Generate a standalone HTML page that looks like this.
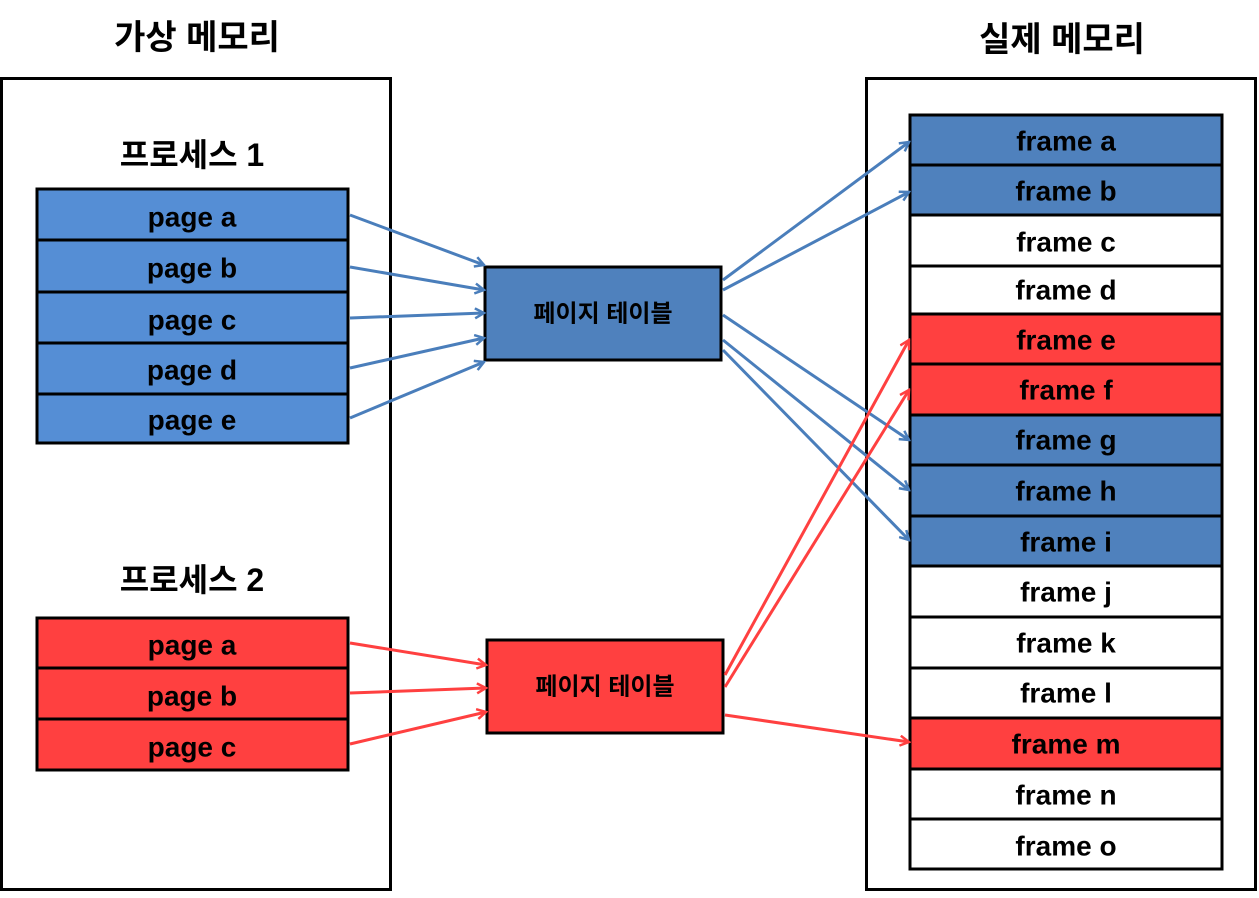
<!DOCTYPE html>
<html><head><meta charset="utf-8"><style>
body{margin:0;background:#fff;width:1259px;height:893px;overflow:hidden}
svg text{font-family:"Liberation Sans","Noto Sans CJK KR","NanumGothic",sans-serif;font-weight:bold;text-anchor:middle;dominant-baseline:central}
</style></head><body>
<svg width="1259" height="893" viewBox="0 0 1259 893">
<defs>
<marker id="ab" markerWidth="12" markerHeight="12" refX="10" refY="6" orient="auto" markerUnits="userSpaceOnUse"><path d="M1,1 L10,6 L1,11" fill="none" stroke="#4A7EBB" stroke-width="2.5"/></marker>
<marker id="ar" markerWidth="12" markerHeight="12" refX="10" refY="6" orient="auto" markerUnits="userSpaceOnUse"><path d="M1,1 L10,6 L1,11" fill="none" stroke="#FF4040" stroke-width="2.5"/></marker>
</defs>
<text x="197" y="38" font-size="34">가상 메모리</text>
<text x="1062" y="40" font-size="34">실제 메모리</text>
<rect x="1.5" y="78.5" width="389" height="811" fill="none" stroke="#000" stroke-width="3"/>
<rect x="866.5" y="78.5" width="389" height="811" fill="none" stroke="#000" stroke-width="3"/>
<text x="192" y="155" font-size="32">프로세스 1</text>
<text x="192" y="580" font-size="32">프로세스 2</text>
<g stroke="#000" stroke-width="3" fill="#558ED5">
<rect x="37" y="189" width="311" height="51"/><rect x="37" y="240" width="311" height="52"/><rect x="37" y="292" width="311" height="51"/><rect x="37" y="343" width="311" height="51"/><rect x="37" y="394" width="311" height="49"/>
</g>
<g stroke="#000" stroke-width="3" fill="#FF4040">
<rect x="37" y="618" width="311" height="50"/><rect x="37" y="668" width="311" height="51"/><rect x="37" y="719" width="311" height="51"/>
</g>
<g font-size="28">
<text x="192" y="217">page a</text><text x="192" y="268">page b</text><text x="192" y="320">page c</text><text x="192" y="370">page d</text><text x="192" y="420">page e</text>
<text x="192" y="645">page a</text><text x="192" y="696">page b</text><text x="192" y="747">page c</text>
</g>
<rect x="485" y="267" width="236" height="93" fill="#4F81BD" stroke="#000" stroke-width="3"/>
<rect x="487" y="640" width="236" height="93" fill="#FF4040" stroke="#000" stroke-width="3"/>
<text x="603" y="314" font-size="24">페이지 테이블</text>
<text x="605" y="687" font-size="24">페이지 테이블</text>
<g stroke="#000" stroke-width="3">
<rect x="910" y="115" width="312" height="50" fill="#4F81BD"/>
<rect x="910" y="165" width="312" height="50" fill="#4F81BD"/>
<rect x="910" y="215" width="312" height="51" fill="#fff"/>
<rect x="910" y="266" width="312" height="48" fill="#fff"/>
<rect x="910" y="314" width="312" height="50" fill="#FF4040"/>
<rect x="910" y="364" width="312" height="51" fill="#FF4040"/>
<rect x="910" y="415" width="312" height="50" fill="#4F81BD"/>
<rect x="910" y="465" width="312" height="51" fill="#4F81BD"/>
<rect x="910" y="516" width="312" height="50" fill="#4F81BD"/>
<rect x="910" y="566" width="312" height="51" fill="#fff"/>
<rect x="910" y="617" width="312" height="51" fill="#fff"/>
<rect x="910" y="668" width="312" height="50" fill="#fff"/>
<rect x="910" y="718" width="312" height="51" fill="#FF4040"/>
<rect x="910" y="769" width="312" height="50" fill="#fff"/>
<rect x="910" y="819" width="312" height="50" fill="#fff"/>
</g>
<g font-size="28">
<text x="1066" y="141">frame a</text><text x="1066" y="191">frame b</text><text x="1066" y="242">frame c</text><text x="1066" y="290">frame d</text><text x="1066" y="340">frame e</text><text x="1066" y="390">frame f</text><text x="1066" y="440">frame g</text><text x="1066" y="491">frame h</text><text x="1066" y="542">frame i</text><text x="1066" y="592">frame j</text><text x="1066" y="643">frame k</text><text x="1066" y="693">frame l</text><text x="1066" y="744">frame m</text><text x="1066" y="795">frame n</text><text x="1066" y="846">frame o</text>
</g>
<g stroke="#4A7EBB" stroke-width="3" marker-end="url(#ab)">
<line x1="350" y1="215" x2="484" y2="265"/>
<line x1="350" y1="267" x2="484" y2="290"/>
<line x1="350" y1="318" x2="484" y2="313"/>
<line x1="350" y1="368" x2="484" y2="338"/>
<line x1="350" y1="418" x2="484" y2="362"/>
<line x1="723" y1="280" x2="909" y2="142"/>
<line x1="723" y1="290" x2="909" y2="192"/>
<line x1="723" y1="315" x2="909" y2="440"/>
<line x1="723" y1="340" x2="909" y2="490"/>
<line x1="723" y1="350" x2="909" y2="540"/>
</g>
<g stroke="#FF4040" stroke-width="3" marker-end="url(#ar)">
<line x1="350" y1="643" x2="486" y2="665"/>
<line x1="350" y1="693" x2="486" y2="688"/>
<line x1="350" y1="744" x2="486" y2="712"/>
<line x1="725" y1="675" x2="909" y2="340"/>
<line x1="725" y1="687" x2="909" y2="390"/>
<line x1="725" y1="715" x2="909" y2="742"/>
</g>
</svg>
</body></html>
